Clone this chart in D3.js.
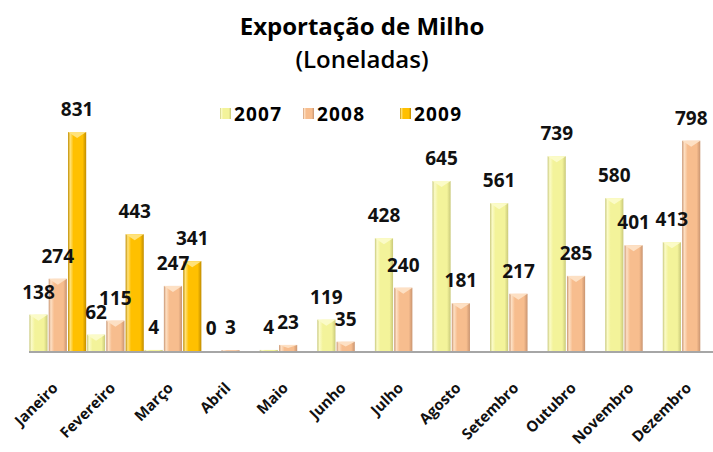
<!DOCTYPE html>
<html>
<head>
<meta charset="utf-8">
<script src="https://cdn.jsdelivr.net/npm/d3@7/dist/d3.min.js"></script>
<style>
  body { margin: 0; background: #fff; }
  svg { display: block; font-family: "Open Sans", "Liberation Sans", sans-serif; }
</style>
</head>
<body>
<div id="chart"></div>
<script>
// Data
const months = ["Janeiro", "Fevereiro", "Março", "Abril", "Maio", "Junho",
    "Julho", "Agosto", "Setembro", "Outubro", "Novembro", "Dezembro"];
const years = ["2007", "2008", "2009"];
const values2007 = [138, 62, 4, 0, 4, 119, 428, 645, 561, 739, 580, 413];
const values2008 = [274, 115, 247, 3, 23, 35, 240, 181, 217, 285, 401, 798];
const values2009 = [831, 443, 341, null, null, null, null, null, null, null, null, null];

const seriesValues = { "2007": values2007, "2008": values2008, "2009": values2009 };
const colors = {
    "2007": { base: "#f3f39a", light: "#fbfbc8", dark: "#c9c97a" },
    "2008": { base: "#f7bd8e", light: "#fde0c4", dark: "#c99470" },
    "2009": { base: "#ffc000", light: "#ffe27a", dark: "#c08c00" }
};

const width = 713, height = 452;
const baseline = 351;

const svg = d3.select("#chart").append("svg")
    .attr("width", width)
    .attr("height", height);

const defs = svg.append("defs");
years.forEach(yr => {
    const g = defs.append("linearGradient")
        .attr("id", "grad" + yr)
        .attr("x1", "0%").attr("x2", "100%").attr("y1", "0%").attr("y2", "0%");
    g.append("stop").attr("offset", "0%").attr("stop-color", colors[yr].dark);
    g.append("stop").attr("offset", "12%").attr("stop-color", colors[yr].light);
    g.append("stop").attr("offset", "30%").attr("stop-color", colors[yr].base);
    g.append("stop").attr("offset", "80%").attr("stop-color", colors[yr].base);
    g.append("stop").attr("offset", "100%").attr("stop-color", colors[yr].dark);
});

const x = d3.scaleBand().domain(months).range([29, 720]).padding(0);
const xi = d3.scaleBand().domain(years).range([0, x.bandwidth()]).paddingInner(0.06).paddingOuter(0.02);
const y = d3.scaleLinear().domain([0, 900]).range([baseline, baseline - 900 * 0.2635]);

// Flatten
const bars = [];
months.forEach((m, i) => {
    years.forEach(yr => {
        const v = seriesValues[yr][i];
        if (v !== null) bars.push({ month: m, year: yr, value: v });
    });
});

// Title
svg.append("text")
    .attr("x", 362).attr("y", 35)
    .attr("text-anchor", "middle")
    .style("font-size", "24px").style("font-weight", "bold")
    .text("Exportação de Milho");
svg.append("text")
    .attr("x", 362).attr("y", 68)
    .attr("text-anchor", "middle")
    .style("font-size", "24px").style("font-weight", "600")
    .text("(Loneladas)");

// Legend
const legendX = [220, 303, 400];
const legend = svg.append("g");
years.forEach((yr, i) => {
    legend.append("rect")
        .attr("x", legendX[i]).attr("y", 108)
        .attr("width", 11).attr("height", 11)
        .attr("fill", `url(#grad${yr})`);
    legend.append("text")
        .attr("x", legendX[i] + 14).attr("y", 121)
        .style("font-size", "19px").style("font-weight", "bold")
        .attr("textLength", 47)
        .text(yr);
});

// Bars
const barG = svg.append("g");
const bar = barG.selectAll("g.bar")
    .data(bars)
    .enter().append("g")
    .attr("class", "bar");

bar.append("rect")
    .attr("x", d => x(d.month) + xi(d.year))
    .attr("y", d => y(d.value))
    .attr("width", xi.bandwidth())
    .attr("height", d => baseline - y(d.value))
    .attr("fill", d => `url(#grad${d.year})`);

// bevel triangle on top
bar.filter(d => baseline - y(d.value) > 3)
    .append("path")
    .attr("d", d => {
        const x0 = x(d.month) + xi(d.year), w = xi.bandwidth(), t = y(d.value);
        const h = Math.min(6, (baseline - t) / 2);
        return `M${x0},${t} L${x0 + w},${t} L${x0 + w / 2},${t + h} Z`;
    })
    .attr("fill", d => colors[d.year].light);

// Axis line
svg.append("line")
    .attr("x1", 29).attr("x2", width)
    .attr("y1", baseline + 1).attr("y2", baseline + 1)
    .attr("stroke", "#a6a6a6").attr("stroke-width", 2);

// Value labels
svg.append("g").selectAll("text")
    .data(bars)
    .enter().append("text")
    .attr("x", d => x(d.month) + xi(d.year) + xi.bandwidth() / 2)
    .attr("y", d => y(d.value) - 16)
    .attr("text-anchor", "middle")
    .style("font-size", "19px").style("font-weight", "bold")
    .attr("fill", "#111")
    .text(d => d.value);

// Month labels
svg.append("g").selectAll("text")
    .data(months)
    .enter().append("text")
    .attr("transform", d => `translate(${x(d) + x.bandwidth() / 2 + 1},${baseline + 38}) rotate(-45)`)
    .attr("text-anchor", "end")
    .style("font-size", "15px").style("font-weight", "bold")
    .attr("fill", "#111")
    .text(d => d);
</script>
</body>
</html>
